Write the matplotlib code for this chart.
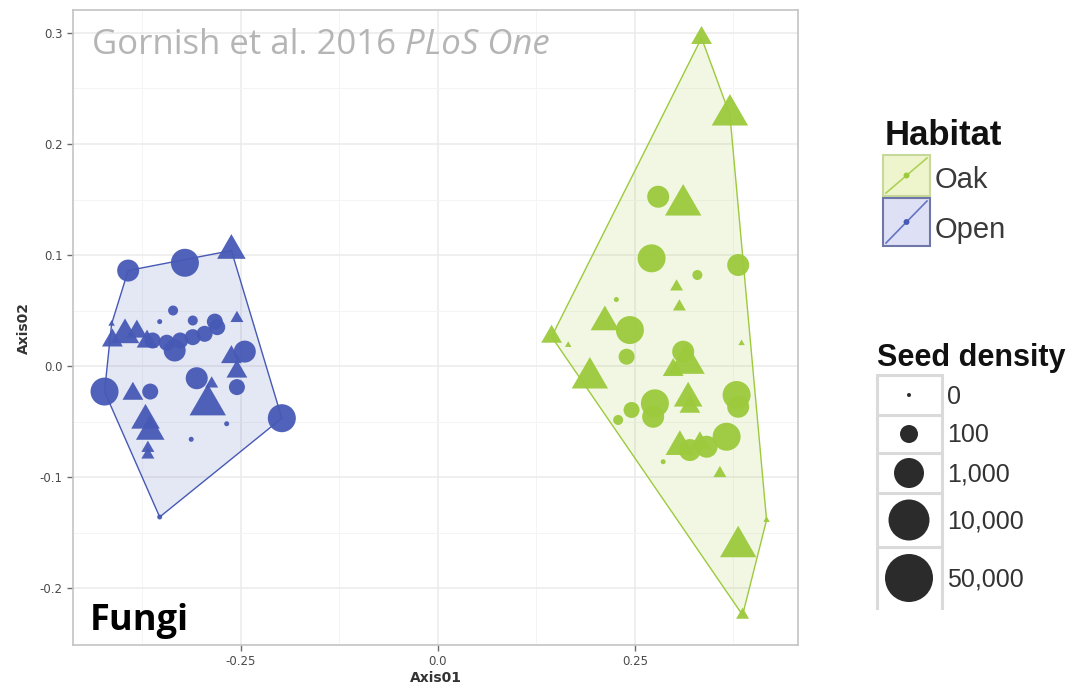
import matplotlib
matplotlib.use("Agg")
import matplotlib.pyplot as plt
from matplotlib.patches import Polygon, Rectangle
from matplotlib.ticker import MultipleLocator

# seed density classes used for point size
density_levels = [0, 100, 1000, 10000, 50000]
density_labels = ["0", "100", "1,000", "10,000", "50,000"]
habitats = ["Oak", "Open"]

# Open habitat: NMDS scores, sample type (1 = circle, 2 = triangle), seed density
open_x = [-0.393, -0.321, -0.262, -0.336, -0.353, -0.311, -0.283, -0.255, -0.414, -0.397,
          -0.382, -0.369, -0.413, -0.362, -0.344, -0.327, -0.311, -0.296, -0.280, -0.334,
          -0.245, -0.262, -0.255, -0.255, -0.306, -0.287, -0.292, -0.268, -0.313, -0.198,
          -0.423, -0.387, -0.365, -0.371, -0.365, -0.368, -0.368, -0.353]
open_y = [0.086, 0.093, 0.104, 0.050, 0.040, 0.041, 0.040, 0.043, 0.038, 0.028,
          0.031, 0.022, 0.023, 0.023, 0.021, 0.023, 0.026, 0.029, 0.035, 0.014,
          0.013, 0.008, -0.019, -0.005, -0.011, -0.016, -0.035, -0.052, -0.066, -0.047,
          -0.023, -0.025, -0.023, -0.049, -0.059, -0.074, -0.080, -0.136]
open_type = [1, 1, 2, 1, 1, 1, 1, 2, 2, 2,
             2, 2, 2, 1, 1, 1, 1, 1, 1, 1,
             1, 2, 1, 2, 1, 2, 2, 1, 1, 1,
             1, 2, 1, 2, 2, 2, 2, 1]
open_density = [10000, 50000, 10000, 100, 0, 100, 1000, 100, 0, 10000,
                1000, 1000, 1000, 1000, 1000, 1000, 1000, 1000, 1000, 10000,
                10000, 1000, 1000, 1000, 10000, 100, 50000, 0, 0, 50000,
                50000, 1000, 1000, 10000, 10000, 100, 100, 0]

# Oak habitat
oak_x = [0.3346, 0.3706, 0.2796, 0.3113, 0.2712, 0.3811, 0.3293, 0.3029, 0.3065, 0.2265,
         0.2119, 0.2437, 0.1443, 0.1654, 0.2395, 0.1929, 0.3113, 0.3156, 0.2986, 0.3854,
         0.3176, 0.3198, 0.2754, 0.2732, 0.2458, 0.2288, 0.3791, 0.3811, 0.3071, 0.3198,
         0.3410, 0.3664, 0.3325, 0.2859, 0.3579, 0.3811, 0.4171, 0.3867]
oak_y = [0.2955, 0.2261, 0.1525, 0.1450, 0.0970, 0.0910, 0.0820, 0.0714, 0.0534, 0.0599,
         0.0396, 0.0324, 0.0264, 0.0189, 0.0084, -0.0108, 0.0129, 0.0024, -0.0036, 0.0205,
         -0.0291, -0.0367, -0.0336, -0.0457, -0.0396, -0.0486, -0.0261, -0.0367, -0.0727, -0.0757,
         -0.0727, -0.0637, -0.0696, -0.0862, -0.0967, -0.1628, -0.1387, -0.2243]
oak_type = [2, 2, 1, 2, 1, 1, 1, 2, 2, 1,
            2, 1, 2, 2, 1, 2, 1, 2, 2, 2,
            2, 2, 1, 1, 1, 1, 1, 1, 2, 1,
            1, 1, 2, 1, 2, 2, 2, 2]
oak_density = [1000, 50000, 10000, 50000, 50000, 10000, 100, 100, 100, 0,
               10000, 50000, 1000, 0, 1000, 50000, 10000, 50000, 1000, 0,
               10000, 1000, 50000, 10000, 1000, 100, 50000, 10000, 10000, 10000,
               10000, 50000, 1000, 0, 100, 50000, 0, 100]

colors = {"Oak": "#9cca3c", "Open": "#4659b5"}
markers = {1: "o", 2: (3, 0, 0)}
diam_px = dict(zip(density_levels, [5, 10, 16, 22, 28]))


def marker_area(d, kind):
    # circle diameter in px -> scatter area; triangles drawn a bit larger
    size = d * 0.72
    if kind == 2:
        size *= 1.5
    return size ** 2


def convex_hull(xs, ys):
    pts = sorted(set(zip(xs, ys)))

    def cross(o, a, b):
        return (a[0] - o[0]) * (b[1] - o[1]) - (a[1] - o[1]) * (b[0] - o[0])

    lower, upper = [], []
    for p in pts:
        while len(lower) >= 2 and cross(lower[-2], lower[-1], p) <= 0:
            lower.pop()
        lower.append(p)
    for p in reversed(pts):
        while len(upper) >= 2 and cross(upper[-2], upper[-1], p) <= 0:
            upper.pop()
        upper.append(p)
    return lower[:-1] + upper[:-1]


W, H = 1090, 690
fig = plt.figure(figsize=(W / 100, H / 100), dpi=100)
ax = fig.add_axes([73 / W, 1 - 645 / H, (798 - 73) / W, (645 - 10) / H])

groups = {
    "Oak": (oak_x, oak_y, oak_type, oak_density),
    "Open": (open_x, open_y, open_type, open_density),
}

for hab in habitats:
    xs, ys, kinds, dens = groups[hab]
    hull = convex_hull(xs, ys)
    ax.add_patch(Polygon(hull, closed=True, facecolor=colors[hab], alpha=0.14,
                         edgecolor="none", zorder=2))
    ax.add_patch(Polygon(hull, closed=True, facecolor="none", edgecolor=colors[hab],
                         lw=1.0, zorder=2.5))
    for k in (1, 2):
        sel = [i for i in range(len(xs)) if kinds[i] == k]
        ax.scatter([xs[i] for i in sel], [ys[i] for i in sel],
                   s=[marker_area(diam_px[dens[i]], k) for i in sel],
                   marker=markers[k], color=colors[hab], edgecolors="none",
                   alpha=0.95, zorder=3)

ax.set_xlim(-0.463, 0.457)
ax.set_ylim(-0.2513, 0.3207)
ax.set_xticks([-0.25, 0.0, 0.25])
ax.set_xticklabels(["-0.25", "0.0", "0.25"])
ax.set_yticks([-0.2, -0.1, 0.0, 0.1, 0.2, 0.3])
ax.set_yticklabels(["-0.2", "-0.1", "0.0", "0.1", "0.2", "0.3"])
ax.xaxis.set_minor_locator(MultipleLocator(0.125))
ax.yaxis.set_minor_locator(MultipleLocator(0.05))
ax.tick_params(which="major", length=4, width=1, color="#6b6b6b",
               labelsize=8.5, labelcolor="#4a4a4a")
ax.tick_params(which="minor", length=0)
ax.grid(which="major", color="#ebebeb", lw=1.1, zorder=0)
ax.grid(which="minor", color="#f4f4f4", lw=0.7, zorder=0)
ax.set_axisbelow(True)
for sp in ax.spines.values():
    sp.set_color("#c4c4c4")
    sp.set_linewidth(1.2)
ax.set_xlabel("Axis01", fontsize=10, fontweight="bold", color="#333333", labelpad=2)
ax.set_ylabel("Axis02", fontsize=10, fontweight="bold", color="#333333", labelpad=6)

# citation and panel label
cite = fig.text(92 / W, 1 - 54 / H, "Gornish et al. 2016 ", family="Open Sans",
                fontsize=25, color="#b5b5b5", va="baseline")
fig.canvas.draw()
bb = cite.get_window_extent()
fig.text(bb.x1 / W, 1 - 54 / H, "PLoS One", family="Open Sans", style="italic",
         fontsize=25, color="#b5b5b5", va="baseline")
fig.text(90 / W, 1 - 630 / H, "Fungi", family="Open Sans", fontweight="bold",
         fontsize=26, color="black", va="baseline")

# legends, drawn in pixel coordinates
lax = fig.add_axes([0, 0, 1, 1])
lax.set_xlim(0, W)
lax.set_ylim(H, 0)
lax.axis("off")

lax.text(885, 145, "Habitat", fontsize=25, fontweight="bold", color="#111111",
         family="Liberation Sans", va="baseline")
key_fill = {"Oak": "#eef4cc", "Open": "#dee1f5"}
key_edge = {"Oak": "#c6d99a", "Open": "#6f76a8"}
key_rows = {"Oak": (155, 196), "Open": (198, 246)}
for hab in habitats:
    y0, y1 = key_rows[hab]
    lax.add_patch(Rectangle((883, y0), 47, y1 - y0, facecolor=key_fill[hab],
                            edgecolor=key_edge[hab], lw=1.5))
    lax.plot([886, 927], [y1 - 3, y0 + 3], color=colors[hab], lw=1.2, alpha=0.8)
    lax.scatter([906.5], [(y0 + y1) / 2], s=18, color=colors[hab], edgecolors="none")
    lax.text(935, y1 - 8, hab, fontsize=21, color="#3a3a3a", family="Liberation Sans",
             va="baseline")

lax.text(877, 366, "Seed density", fontsize=22, fontweight="bold", color="#111111",
         family="Liberation Sans", va="baseline")
row_edges = [375, 415, 453, 493, 547, 608]
legend_diam = [4, 18, 30, 41, 48]
for i, lab in enumerate(density_labels):
    top, bot = row_edges[i], row_edges[i + 1]
    cy = (top + bot) / 2 if i < 4 else 578
    lax.plot([877, 942], [top, top], color="#dadada", lw=2.2, solid_capstyle="butt")
    lax.scatter([909], [cy], s=(legend_diam[i] * 0.72) ** 2, color="#2b2b2b",
                edgecolors="none")
    lax.text(947, cy + 8.5, lab, fontsize=18, color="#333333", family="Liberation Sans",
             va="baseline")
lax.plot([877, 877], [375, 608], color="#dadada", lw=2.2)
lax.plot([942, 942], [375, 608], color="#dadada", lw=2.2)

fig.savefig("out.png", dpi=100)
